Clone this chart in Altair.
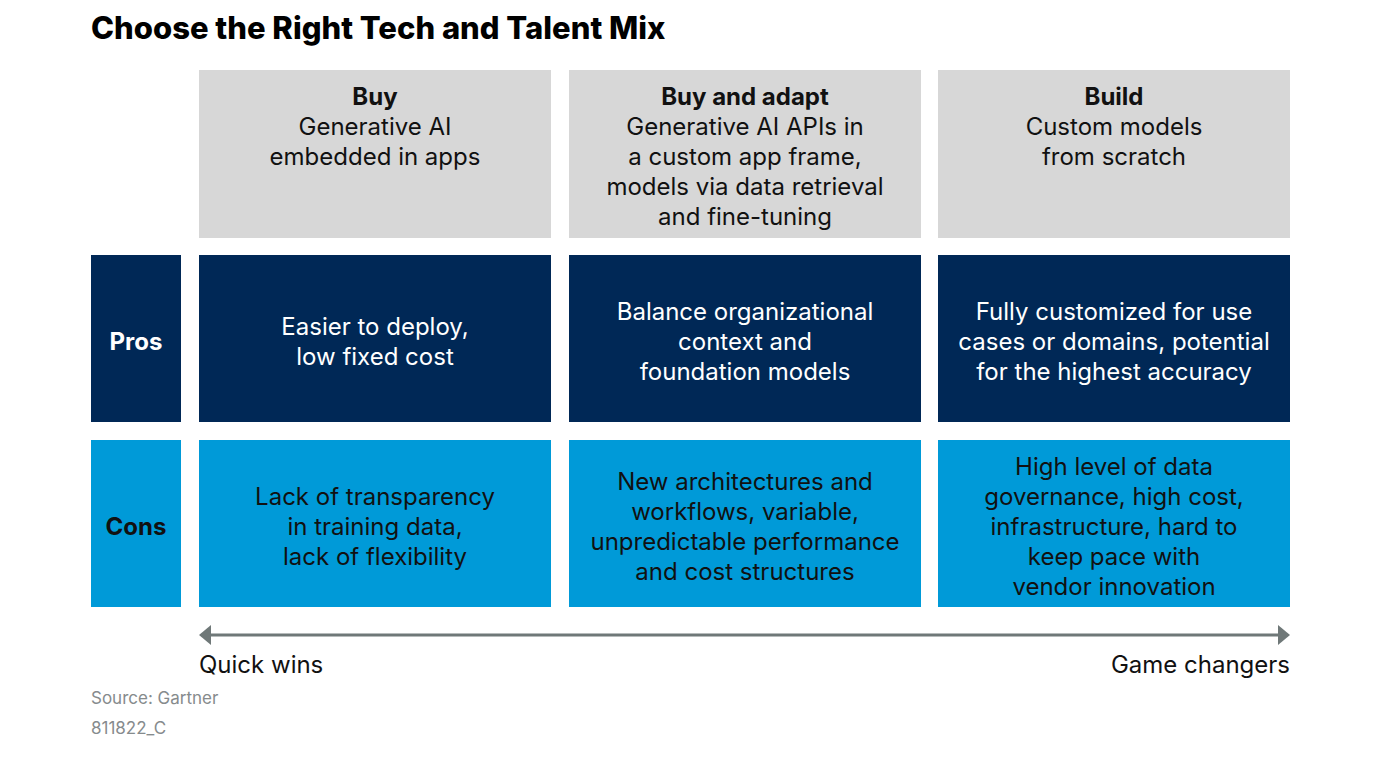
import altair as alt
import pandas as pd

# ---- content ----
title = "Choose the Right Tech and Talent Mix"
options = ["Buy", "Buy and adapt", "Build"]
descriptions = [
    "Generative AI\nembedded in apps",
    "Generative AI APIs in\na custom app frame,\nmodels via data retrieval\nand fine-tuning",
    "Custom models\nfrom scratch",
]
row_labels = ["Pros", "Cons"]
pros = [
    "Easier to deploy,\nlow fixed cost",
    "Balance organizational\ncontext and\nfoundation models",
    "Fully customized for use\ncases or domains, potential\nfor the highest accuracy",
]
cons = [
    "Lack of transparency\nin training data,\nlack of flexibility",
    "New architectures and\nworkflows, variable,\nunpredictable performance\nand cost structures",
    "High level of data\ngovernance, high cost,\ninfrastructure, hard to\nkeep pace with\nvendor innovation",
]
axis_ends = ["Quick wins", "Game changers"]
notes = ["Source: Gartner", "811822_C"]

# ---- layout (page pixels) ----
W, H = 1360, 746
label_col = (91, 181)
cols = [(199, 551), (569, 921), (938, 1290)]
header_row = (70, 238)
rows = [(255, 422), (440, 607)]
row_colors = ["#002856", "#009ad8"]
header_color = "#d7d7d7"
FONT = "Inter"
FS = 24
LH = 30
DY = 2

xs = alt.Scale(domain=[8, 8 + W], nice=False, zero=False)
ys = alt.Scale(domain=[8 + H, 8], nice=False, zero=False)


def X(f):
    return alt.X(f, type="quantitative", scale=xs, axis=None)


def Y(f):
    return alt.Y(f, type="quantitative", scale=ys, axis=None)


def first_line_y(center, text):
    n = len(text.split("\n"))
    return center - (n - 1) * LH / 2


# boxes
box_rows = []
for i, (x0, x1) in enumerate(cols):
    box_rows.append(dict(x=x0, x2=x1, y=header_row[0], y2=header_row[1], c=header_color))
for r, (y0, y1) in enumerate(rows):
    box_rows.append(dict(x=label_col[0], x2=label_col[1], y=y0, y2=y1, c=row_colors[r]))
    for i, (x0, x1) in enumerate(cols):
        box_rows.append(dict(x=x0, x2=x1, y=y0, y2=y1, c=row_colors[r]))
boxes_df = pd.DataFrame(box_rows)

boxes = alt.Chart(boxes_df).mark_rect().encode(
    x=X("x"), x2="x2", y=Y("y"), y2="y2",
    color=alt.Color("c:N", scale=None),
)

# header texts
hdr_df = pd.DataFrame({
    "t": options,
    "d": descriptions,
    "x": [(a + b) / 2 for a, b in cols],
    "yt": [header_row[0] + 26] * 3,
    "yd": [header_row[0] + 56] * 3,
})
hdr_title = alt.Chart(hdr_df).mark_text(
    font=FONT, fontSize=FS, fontWeight="bold", color="#111111", baseline="middle", align="center",
    dy=DY,
).encode(x=X("x"), y=Y("yt"), text="t:N")
hdr_desc = alt.Chart(hdr_df).mark_text(
    font=FONT, fontSize=FS, color="#111111", baseline="middle", align="center",
    lineBreak="\n", lineHeight=LH, dy=DY,
).encode(x=X("x"), y=Y("yd"), text="d:N")

# cell texts
cell_rows = []
for r, texts in enumerate([pros, cons]):
    for i, t in enumerate(texts):
        cy = (rows[r][0] + rows[r][1]) / 2 + 2
        cell_rows.append(dict(
            t=t, x=(cols[i][0] + cols[i][1]) / 2, y=first_line_y(cy, t),
            c="#ffffff" if r == 0 else "#111111"))
cells_df = pd.DataFrame(cell_rows)
cells = alt.Chart(cells_df).mark_text(
    font=FONT, fontSize=FS, baseline="middle", align="center", lineBreak="\n", lineHeight=LH,
    dy=DY,
).encode(x=X("x"), y=Y("y"), text="t:N", color=alt.Color("c:N", scale=None))

lab_df = pd.DataFrame({
    "t": row_labels,
    "x": [(label_col[0] + label_col[1]) / 2] * 2,
    "y": [(a + b) / 2 + 2 for a, b in rows],
    "c": ["#ffffff", "#111111"],
})
labels = alt.Chart(lab_df).mark_text(
    font=FONT, fontSize=FS, fontWeight="bold", baseline="middle", align="center", dy=DY,
).encode(x=X("x"), y=Y("y"), text="t:N", color=alt.Color("c:N", scale=None))

# arrow
arrow_y = 635
arrow_color = "#6f7878"
HEAD = 6
line_df = pd.DataFrame({"x": [cols[0][0] + 8], "x2": [cols[-1][1] - 8], "y": [arrow_y]})
arrow_line = alt.Chart(line_df).mark_rule(color=arrow_color, strokeWidth=3).encode(
    x=X("x"), x2="x2", y=Y("y"))
head_r = alt.Chart(pd.DataFrame({"x": [cols[-1][1] - HEAD], "y": [arrow_y]})).mark_point(
    shape="M-0.6,-1L0.6,0L-0.6,1Z", filled=True, size=400, color=arrow_color, opacity=1,
    strokeWidth=0,
).encode(x=X("x"), y=Y("y"))
head_l = alt.Chart(pd.DataFrame({"x": [cols[0][0] + HEAD], "y": [arrow_y]})).mark_point(
    shape="M0.6,-1L-0.6,0L0.6,1Z", filled=True, size=400, color=arrow_color, opacity=1,
    strokeWidth=0,
).encode(x=X("x"), y=Y("y"))

ends_df = pd.DataFrame({"t": axis_ends, "x": [cols[0][0], cols[-1][1]], "y": [664, 664]})
end_l = alt.Chart(ends_df.iloc[[0]]).mark_text(
    font=FONT, fontSize=FS, align="left", baseline="middle", color="#111111", dy=DY,
).encode(x=X("x"), y=Y("y"), text="t:N")
end_r = alt.Chart(ends_df.iloc[[1]]).mark_text(
    font=FONT, fontSize=FS, align="right", baseline="middle", color="#111111", dy=DY,
).encode(x=X("x"), y=Y("y"), text="t:N")

notes_df = pd.DataFrame({"t": notes, "x": [91, 91], "y": [697, 727]})
note_txt = alt.Chart(notes_df).mark_text(
    font=FONT, fontSize=17, align="left", baseline="middle", color="#868b8d", dy=DY,
).encode(x=X("x"), y=Y("y"), text="t:N")

title_txt = alt.Chart(pd.DataFrame({"t": [title], "x": [91], "y": [28]})).mark_text(
    font=FONT, fontSize=31, fontWeight=800, align="left", baseline="middle", color="#000000",
    dy=DY,
).encode(x=X("x"), y=Y("y"), text="t:N")

chart = alt.layer(
    boxes, hdr_title, hdr_desc, cells, labels, arrow_line, head_l, head_r,
    end_l, end_r, note_txt, title_txt,
).properties(width=W, height=H, padding=0, autosize="none").configure_view(stroke=None)

chart.save("out.html", embed_options={"renderer": "svg", "actions": False})
